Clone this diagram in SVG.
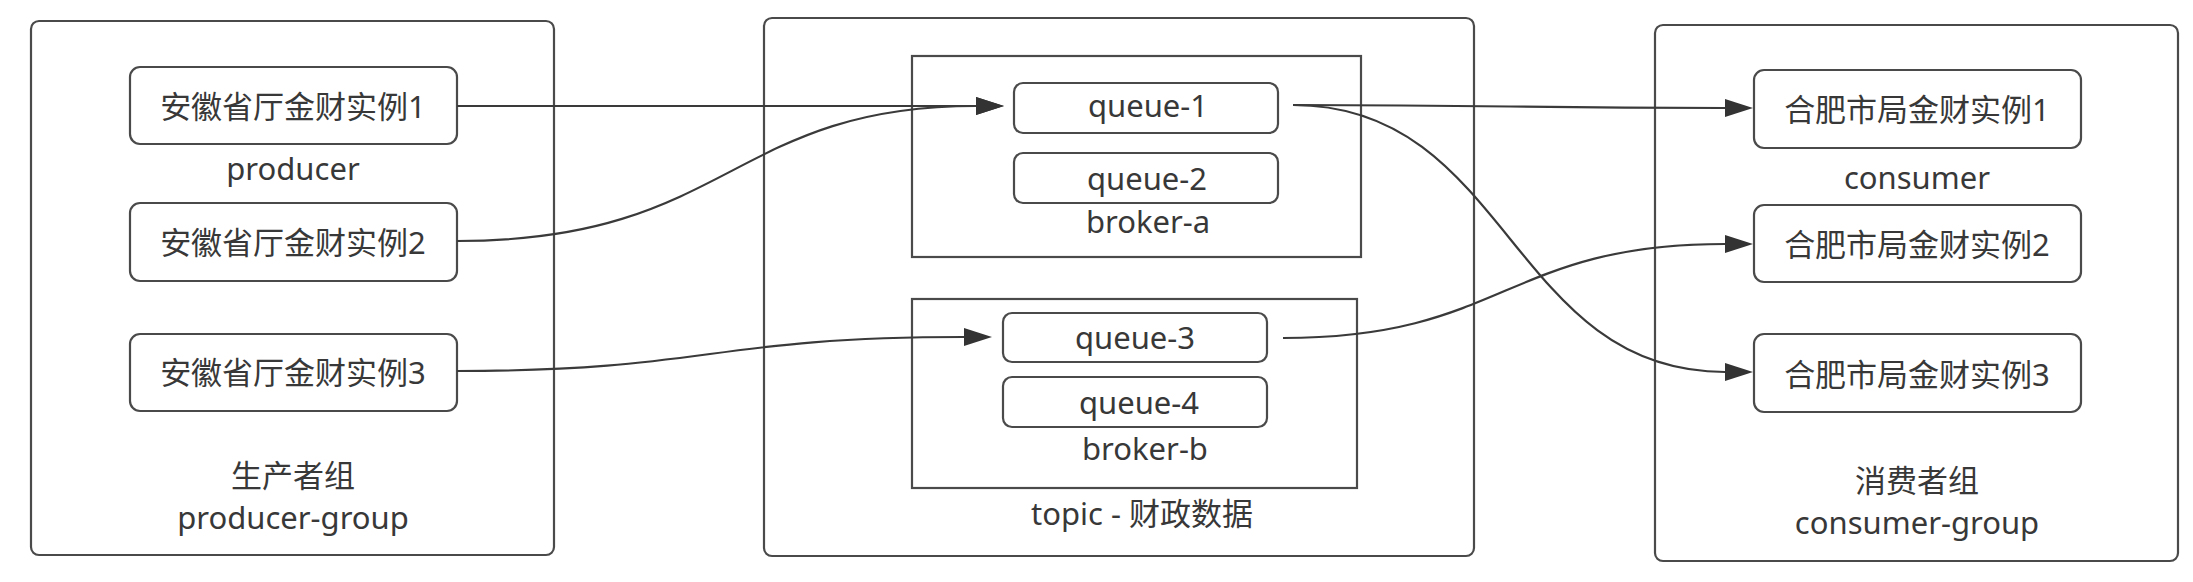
<svg xmlns="http://www.w3.org/2000/svg" width="2193" height="582" viewBox="0 0 2193 582">
  <style>
    .grp { fill: #ffffff; stroke: #4a4a4a; stroke-width: 2.2; }
    .node { fill: #ffffff; stroke: #4a4a4a; stroke-width: 2.2; }
    .broker { fill: none; stroke: #4a4a4a; stroke-width: 2.2; }
    .t { font-family: "Noto Sans", "Noto Sans CJK SC", sans-serif; font-size: 31px; fill: #383838; text-anchor: middle; }
    .edge { fill: none; stroke: #3a3a3a; stroke-width: 2.2; }
  </style>
  <defs>
    <marker id="arrow" markerUnits="userSpaceOnUse" markerWidth="28" markerHeight="18" refX="0" refY="9" orient="auto">
      <path d="M0,0 L28,9 L0,18 Z" fill="#333333"/>
    </marker>
  </defs>
  <rect width="2193" height="582" fill="#ffffff"/>

  <!-- producer group -->
  <g id="producer-group">
    <rect class="grp" x="31" y="21" width="523" height="534" rx="8"/>
    <text class="t" x="293" y="487">生产者组</text>
    <text class="t" x="293" y="529">producer-group</text>
    <text class="t" x="293" y="180">producer</text>
  </g>
  <g id="producer-1">
    <rect class="node" x="130" y="67" width="327" height="77" rx="10"/>
    <text class="t" x="293" y="118">安徽省厅金财实例1</text>
  </g>
  <g id="producer-2">
    <rect class="node" x="130" y="203" width="327" height="78" rx="10"/>
    <text class="t" x="293" y="254">安徽省厅金财实例2</text>
  </g>
  <g id="producer-3">
    <rect class="node" x="130" y="334" width="327" height="77" rx="10"/>
    <text class="t" x="293" y="384">安徽省厅金财实例3</text>
  </g>

  <!-- topic -->
  <g id="topic">
    <rect class="grp" x="764" y="18" width="710" height="538" rx="8"/>
    <text class="t" x="1142" y="525">topic - 财政数据</text>
  </g>
  <g id="broker-a">
    <rect class="broker" x="912" y="56" width="449" height="201"/>
    <text class="t" x="1148" y="233">broker-a</text>
  </g>
  <g id="queue-1">
    <rect class="node" x="1014" y="83" width="264" height="50" rx="9"/>
    <text class="t" x="1148" y="117">queue-1</text>
  </g>
  <g id="queue-2">
    <rect class="node" x="1014" y="153" width="264" height="50" rx="9"/>
    <text class="t" x="1147" y="190">queue-2</text>
  </g>
  <g id="broker-b">
    <rect class="broker" x="912" y="299" width="445" height="189"/>
    <text class="t" x="1145" y="460">broker-b</text>
  </g>
  <g id="queue-3">
    <rect class="node" x="1003" y="313" width="264" height="49" rx="9"/>
    <text class="t" x="1135" y="349">queue-3</text>
  </g>
  <g id="queue-4">
    <rect class="node" x="1003" y="377" width="264" height="50" rx="9"/>
    <text class="t" x="1139" y="414">queue-4</text>
  </g>

  <!-- consumer group -->
  <g id="consumer-group">
    <rect class="grp" x="1655" y="25" width="523" height="536" rx="8"/>
    <text class="t" x="1917" y="492">消费者组</text>
    <text class="t" x="1917" y="534">consumer-group</text>
    <text class="t" x="1917" y="189">consumer</text>
  </g>
  <g id="consumer-1">
    <rect class="node" x="1754" y="70" width="327" height="78" rx="10"/>
    <text class="t" x="1917" y="121">合肥市局金财实例1</text>
  </g>
  <g id="consumer-2">
    <rect class="node" x="1754" y="205" width="327" height="77" rx="10"/>
    <text class="t" x="1917" y="256">合肥市局金财实例2</text>
  </g>
  <g id="consumer-3">
    <rect class="node" x="1754" y="334" width="327" height="78" rx="10"/>
    <text class="t" x="1917" y="386">合肥市局金财实例3</text>
  </g>

  <!-- connectors -->
  <g id="connectors">
    <path class="edge" d="M457,106 L976,106" marker-end="url(#arrow)"/>
    <path class="edge" d="M457,241 C 730,241 730,106 976,106" marker-end="url(#arrow)"/>
    <path class="edge" d="M457,371 C 710,371 710,337 964,337" marker-end="url(#arrow)"/>
    <path class="edge" d="M1293,105 C 1510,105 1510,108 1725,108" marker-end="url(#arrow)"/>
    <path class="edge" d="M1293,105 C 1510,105 1510,372 1725,372" marker-end="url(#arrow)"/>
    <path class="edge" d="M1283,338 C 1505,338 1505,244 1725,244" marker-end="url(#arrow)"/>
  </g>
</svg>
